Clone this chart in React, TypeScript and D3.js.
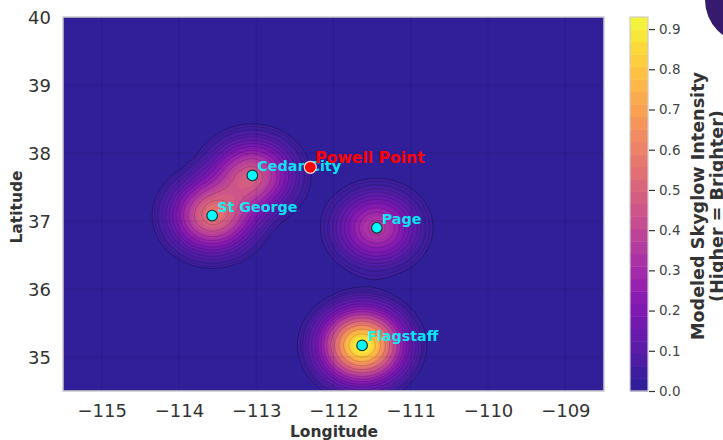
import React, { useEffect, useRef } from 'react';
import * as d3 from 'd3';

// values
const cityNames = ['St George', 'Cedar City', 'Page', 'Flagstaff'];
const cityLons = [-113.57, -113.05, -111.44, -111.63];
const cityLats = [37.08, 37.67, 36.9, 35.17];
const cityPeaks = [0.54, 0.45, 0.36, 0.93];

// how the glow drops with distance from a city (degrees -> share of the peak)
const falloffRadius = [0, 0.1, 0.2, 0.3, 0.4, 0.5, 0.6, 0.7, 0.8, 0.9, 1.0, 1.15];
const falloffShare = [1, 0.953, 0.823, 0.645, 0.458, 0.295, 0.172, 0.1, 0.042, 0.015, 0.006, 0];

// the drawn rings are closer together at the faint end
const lineLevels = [0.03, 0.04, 0.053, 0.074, 0.096, 0.125, 0.155, 0.19, 0.235, 0.28, 0.34, 0.42, 0.5, 0.6, 0.7, 0.8];

const pointName = 'Powell Point';
const pointLon = -112.3;
const pointLat = 37.79;

const lonTicks = [-115, -114, -113, -112, -111, -110, -109];
const latTicks = [35, 36, 37, 38, 39, 40];
const barTicks = [0, 0.1, 0.2, 0.3, 0.4, 0.5, 0.6, 0.7, 0.8, 0.9];

const maxValue = 0.93;
const bandCount = 30;

const width = 723;
const height = 440;
const plot = { left: 63, right: 604, top: 17, bottom: 391 };
const bar = { left: 630, right: 648 };

const tint = (v: number) => {
  const c = d3.rgb(d3.interpolatePlasma(v / maxValue));
  const a = 0.9;
  return d3.rgb(c.r * a + 255 * (1 - a), c.g * a + 255 * (1 - a), c.b * a + 255 * (1 - a)).formatHex();
};

const App: React.FC = () => {
  const svgRef = useRef<SVGSVGElement | null>(null);

  useEffect(() => {
    const svgEl = svgRef.current;
    if (!svgEl) return;
    const svg = d3.select(svgEl);
    svg.selectAll('*').remove();

    const x = d3.scaleLinear().domain([-115.5, -108.5]).range([plot.left, plot.right]);
    const y = d3.scaleLinear().domain([34.5, 40]).range([plot.bottom, plot.top]);
    const c = d3.scaleLinear().domain([0, maxValue]).range([plot.bottom, plot.top]);
    const falloff = d3.scaleLinear().domain(falloffRadius).range(falloffShare).clamp(true);

    // field on a fine grid, summed over the cities
    const step = 0.02;
    const nx = Math.round(7 / step) + 1;
    const ny = Math.round(5.5 / step) + 1;
    const values = new Float64Array(nx * ny);
    for (let j = 0; j < ny; j++) {
      const lat = 34.5 + j * step;
      for (let i = 0; i < nx; i++) {
        const lon = -115.5 + i * step;
        let v = 0;
        cityLons.forEach((cl, k) => {
          v += cityPeaks[k] * falloff(Math.hypot(lon - cl, lat - cityLats[k]));
        });
        values[j * nx + i] = v;
      }
    }

    const levels = d3.range(bandCount + 1).map((i) => (i * maxValue) / bandCount);
    const contours = d3.contours().size([nx, ny]).thresholds(levels)(values as any);
    const rings = d3.contours().size([nx, ny]).thresholds(lineLevels)(values as any);
    const path = d3.geoPath(
      d3.geoTransform({
        point(px, py) {
          this.stream.point(x(-115.5 + (px - 0.5) * step), y(34.5 + (py - 0.5) * step));
        },
      }),
    );

    const defs = svg.append('defs');
    defs.append('clipPath')
      .attr('id', 'plot-clip')
      .append('rect')
      .attr('x', plot.left)
      .attr('y', plot.top)
      .attr('width', plot.right - plot.left)
      .attr('height', plot.bottom - plot.top);

    const g = svg.append('g').attr('clip-path', 'url(#plot-clip)');

    // Filled bands
    g.selectAll('path.band')
      .data(contours)
      .join('path')
      .attr('class', 'band')
      .attr('d', (d: any) => path(d))
      .attr('fill', (d: any) => tint(d.value + maxValue / bandCount / 2));

    // Gridlines
    g.selectAll('line.gx')
      .data(lonTicks)
      .join('line')
      .attr('class', 'gx')
      .attr('x1', (d) => x(d))
      .attr('x2', (d) => x(d))
      .attr('y1', plot.top)
      .attr('y2', plot.bottom)
      .attr('stroke', '#000')
      .attr('stroke-opacity', 0.1);
    g.selectAll('line.gy')
      .data(latTicks)
      .join('line')
      .attr('class', 'gy')
      .attr('x1', plot.left)
      .attr('x2', plot.right)
      .attr('y1', (d) => y(d))
      .attr('y2', (d) => y(d))
      .attr('stroke', '#000')
      .attr('stroke-opacity', 0.1);

    // Contour lines, the outer ring shows most
    g.selectAll('path.line')
      .data(rings)
      .join('path')
      .attr('class', 'line')
      .attr('d', (d: any) => path(d))
      .attr('fill', 'none')
      .attr('stroke', '#000')
      .attr('stroke-opacity', (_, i) => (i === 0 ? 0.32 : 0.2))
      .attr('stroke-width', 0.8);

    svg.append('rect')
      .attr('x', plot.left)
      .attr('y', plot.top)
      .attr('width', plot.right - plot.left)
      .attr('height', plot.bottom - plot.top)
      .attr('fill', 'none')
      .attr('stroke', '#cccccc')
      .attr('stroke-width', 1.5);

    // Axes
    const fontFamily = '"DejaVu Sans"';
    svg.append('g')
      .attr('transform', `translate(0,${plot.bottom})`)
      .call(d3.axisBottom(x).tickValues(lonTicks).tickSize(0).tickPadding(13).tickFormat(d3.format('d') as any))
      .call((a) => a.select('.domain').remove())
      .call((a) => a.selectAll('text').attr('fill', '#333').attr('font-size', 18).attr('font-family', fontFamily));

    svg.append('g')
      .attr('transform', `translate(${plot.left},0)`)
      .call(d3.axisLeft(y).tickValues(latTicks).tickSize(0).tickPadding(12).tickFormat(d3.format('d') as any))
      .call((a) => a.select('.domain').remove())
      .call((a) => a.selectAll('text').attr('fill', '#333').attr('font-size', 18).attr('font-family', fontFamily).attr('dy', '0.38em'));

    svg.append('text')
      .attr('x', 334)
      .attr('y', 437)
      .attr('text-anchor', 'middle')
      .attr('font-family', fontFamily)
      .attr('font-weight', 'bold')
      .attr('font-size', 15.5)
      .attr('fill', '#333')
      .text('Longitude');

    svg.append('text')
      .attr('transform', 'translate(22,207) rotate(-90)')
      .attr('text-anchor', 'middle')
      .attr('font-family', fontFamily)
      .attr('font-weight', 'bold')
      .attr('font-size', 15.5)
      .attr('fill', '#333')
      .text('Latitude');

    // Colorbar
    svg.append('g')
      .selectAll('rect')
      .data(levels.slice(0, -1))
      .join('rect')
      .attr('x', bar.left)
      .attr('width', bar.right - bar.left)
      .attr('y', (d) => c(d + maxValue / bandCount))
      .attr('height', (d) => c(d) - c(d + maxValue / bandCount) + 0.4)
      .attr('fill', (d) => tint(d + maxValue / bandCount / 2));
    svg.append('rect')
      .attr('x', bar.left)
      .attr('y', plot.top)
      .attr('width', bar.right - bar.left)
      .attr('height', plot.bottom - plot.top)
      .attr('fill', 'none')
      .attr('stroke', '#cccccc')
      .attr('stroke-width', 1.2);

    svg.append('g')
      .attr('transform', `translate(${bar.right + 1},0)`)
      .call(d3.axisRight(c).tickValues(barTicks).tickSize(6).tickPadding(4).tickFormat(d3.format('.1f') as any))
      .call((a) => a.select('.domain').remove())
      .call((a) => a.selectAll('line').attr('stroke', '#333').attr('stroke-width', 1.2))
      .call((a) => a.selectAll('text').attr('fill', '#444').attr('font-size', 13.5).attr('font-family', fontFamily));

    const barLabel = svg.append('text')
      .attr('transform', 'translate(704,206) rotate(-90)')
      .attr('text-anchor', 'middle')
      .attr('font-family', fontFamily)
      .attr('font-weight', 'bold')
      .attr('font-size', 17.6)
      .attr('fill', '#333');
    barLabel.append('tspan').attr('x', 0).attr('y', 0).text('Modeled Skyglow Intensity');
    barLabel.append('tspan').attr('x', 0).attr('y', 18.5).text('(Higher = Brighter)');

    // Cities
    svg.append('g')
      .selectAll('circle')
      .data(cityNames)
      .join('circle')
      .attr('cx', (_, i) => x(cityLons[i]))
      .attr('cy', (_, i) => y(cityLats[i]))
      .attr('r', 5.3)
      .attr('fill', '#00ffff')
      .attr('stroke', '#17323a')
      .attr('stroke-width', 1.2);

    svg.append('g')
      .selectAll('text')
      .data(cityNames)
      .join('text')
      .attr('x', (_, i) => x(cityLons[i]) + 5)
      .attr('y', (_, i) => y(cityLats[i]) - 4)
      .attr('font-family', fontFamily)
      .attr('font-weight', 'bold')
      .attr('font-size', 14.3)
      .attr('fill', '#00ffff')
      .attr('fill-opacity', 0.9)
      .text((d) => d);

    // Powell Point goes on top of the city labels
    svg.append('circle')
      .attr('cx', x(pointLon))
      .attr('cy', y(pointLat))
      .attr('r', 6)
      .attr('fill', '#ff0000')
      .attr('stroke', '#f5d5d5')
      .attr('stroke-width', 1.2);
    svg.append('text')
      .attr('x', x(pointLon) + 5)
      .attr('y', y(pointLat) - 4)
      .attr('font-family', fontFamily)
      .attr('font-weight', 'bold')
      .attr('font-size', 15.6)
      .attr('fill', '#ff0000')
      .text(pointName);

    // page decoration cut off by the top right corner
    svg.append('circle')
      .attr('cx', 748)
      .attr('cy', 0)
      .attr('r', 43)
      .attr('fill', '#351a6e');
  }, []);

  return (
    <svg
      ref={svgRef}
      width={width}
      height={height}
      style={{ position: 'absolute', left: 0, top: 0, display: 'block', background: '#fff' }}
      role="img"
      aria-label="Modeled skyglow intensity map"
    />
  );
};

export default App;
